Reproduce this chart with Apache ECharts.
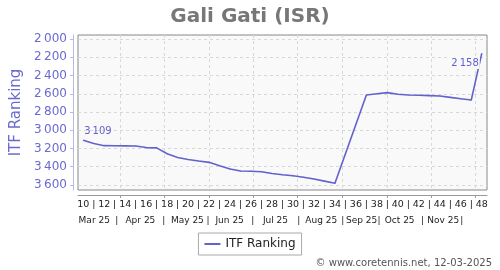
<!DOCTYPE html>
<html>
<head>
<meta charset="utf-8">
<script src="https://cdn.jsdelivr.net/npm/echarts@6/dist/echarts.min.js"></script>
<style>html,body{margin:0;padding:0;background:#fff;}#c{width:500px;height:270px;}</style>
</head>
<body>
<div id="c"></div>
<script>
// ---- data ----
const weeks = [10,11,12,13,14,15,16,17,18,19,20,21,22,23,24,25,26,27,28,29,30,31,32,33,34,35,36,37,38,39,40,41,42,43,44,45,46,47,48];
const itfRanking = [3109,3145,3169,3170,3171,3172,3190,3193,3258,3298,3320,3338,3352,3390,3425,3447,3450,3455,3475,3488,3498,3515,3535,3558,3582,null,null,2614,2600,2588,2605,2614,2616,2620,2625,2640,2655,2668,2158];
const yTicks = [2000,2200,2400,2600,2800,3000,3200,3400,3600];
const monthLabels = ['Mar 25','Apr 25','May 25','Jun 25','Jul 25','Aug 25','Sep 25','Oct 25','Nov 25'];
const monthLabelWeeks = [11.05,15.45,19.93,23.96,28.33,32.7,36.55,40.17,44.33];
const monthSepWeeks = [13.2,17.69,21.9,26.17,30.55,34.74,38.2,42.36,46.1];
const gridWeeks = [13.5,17.74,21.98,26.21,30.45,34.74,38.98,43.21,47.4];

const fmtNum = v => { const s = String(v); return s.length > 3 ? s.slice(0, s.length-3) + '\u2009' + s.slice(s.length-3) : s; };
const blue = '#6262cc';
const plotBg = '#f9f9f9';

const seriesData = itfRanking.map((v, i) => {
  if (i === 0) return {value: v, label: {show: true, position: 'top', align: 'left', offset: [1, 1], distance: 4}};
  if (i === itfRanking.length - 1) return {value: v, label: {show: true, position: 'bottom', align: 'right', offset: [-2, 0], distance: 3, backgroundColor: plotBg, padding: [1, 1]}};
  return v;
});

const chart = echarts.init(document.getElementById('c'), null, {renderer: 'canvas'});
chart.setOption({
  animation: false,
  backgroundColor: '#fff',
  textStyle: {fontFamily: 'DejaVu Sans'},
  title: {
    text: 'Gali Gati (ISR)', left: 'center', top: 2,
    textStyle: {fontSize: 20, fontWeight: 'bold', color: '#777', fontFamily: 'DejaVu Sans'}
  },
  grid: {left: 78, right: 13, top: 35, bottom: 80, show: true, borderColor: '#888', borderWidth: 1, backgroundColor: plotBg},
  legend: {
    data: ['ITF Ranking'], left: 'center', top: 233,
    icon: 'rect', itemWidth: 16, itemHeight: 2, itemGap: 6,
    padding: [5, 6], borderColor: '#aaa', borderWidth: 1, backgroundColor: '#fff',
    textStyle: {fontSize: 12, color: '#222', fontFamily: 'DejaVu Sans'}
  },
  graphic: [{
    type: 'text', right: 8, top: 258,
    style: {text: '\u00a9 www.coretennis.net, 12-03-2025', fontSize: 10, fill: '#555', fontFamily: 'DejaVu Sans'}
  }],
  xAxis: [
    {
      type: 'category', data: weeks, boundaryGap: true, position: 'bottom', offset: 5,
      axisLine: {show: true, lineStyle: {color: '#999'}},
      axisTick: {show: false}, splitLine: {show: false},
      axisLabel: {interval: 0, margin: 5, fontSize: 9.5, color: '#222',
        formatter: (v, i) => (i % 2 === 0 ? String(v) : '|')}
    },
    {
      type: 'value', min: 9.5, max: 48.5, position: 'bottom', offset: 5,
      axisLine: {show: false},
      axisTick: {show: true, customValues: gridWeeks, length: 3, lineStyle: {color: '#999'}},
      axisLabel: {show: false},
      splitLine: {show: true, lineStyle: {color: '#d8d8d8', type: [3, 3]}}
    },
    {
      type: 'value', min: 9.5, max: 48.5, position: 'bottom', offset: 5,
      axisLine: {show: false}, axisTick: {show: false}, splitLine: {show: false},
      axisLabel: {
        customValues: monthLabelWeeks.concat(monthSepWeeks), margin: 21, fontSize: 9, color: '#222',
        formatter: v => {
          for (let k = 0; k < monthLabelWeeks.length; k++) if (Math.abs(monthLabelWeeks[k] - v) < 1e-6) return monthLabels[k];
          return '|';
        }
      }
    }
  ],
  yAxis: {
    type: 'value', inverse: true, min: 1956, max: 3655, offset: 5,
    name: 'ITF Ranking', nameLocation: 'middle', nameGap: 44,
    nameTextStyle: {fontSize: 15, color: '#6a6ad0', fontFamily: 'DejaVu Sans'},
    axisLine: {show: true, lineStyle: {color: '#b8b8e6'}},
    axisTick: {show: true, customValues: yTicks, length: 3, lineStyle: {color: '#b8b8e6'}},
    axisLabel: {customValues: yTicks, margin: 6, fontSize: 12, color: '#6a6ad0', formatter: v => fmtNum(v)},
    splitLine: {show: true, lineStyle: {color: '#d8d8d8', type: [3, 3]}}
  },
  series: [{
    name: 'ITF Ranking', type: 'line', xAxisIndex: 0, yAxisIndex: 0,
    data: seriesData, connectNulls: true, showSymbol: true, showAllSymbol: true,
    symbol: 'circle', symbolSize: 1,
    lineStyle: {color: blue, width: 1.6}, itemStyle: {color: blue},
    label: {show: false, fontSize: 10, color: blue, formatter: p => fmtNum(p.value)}
  }]
});
</script>
</body>
</html>
